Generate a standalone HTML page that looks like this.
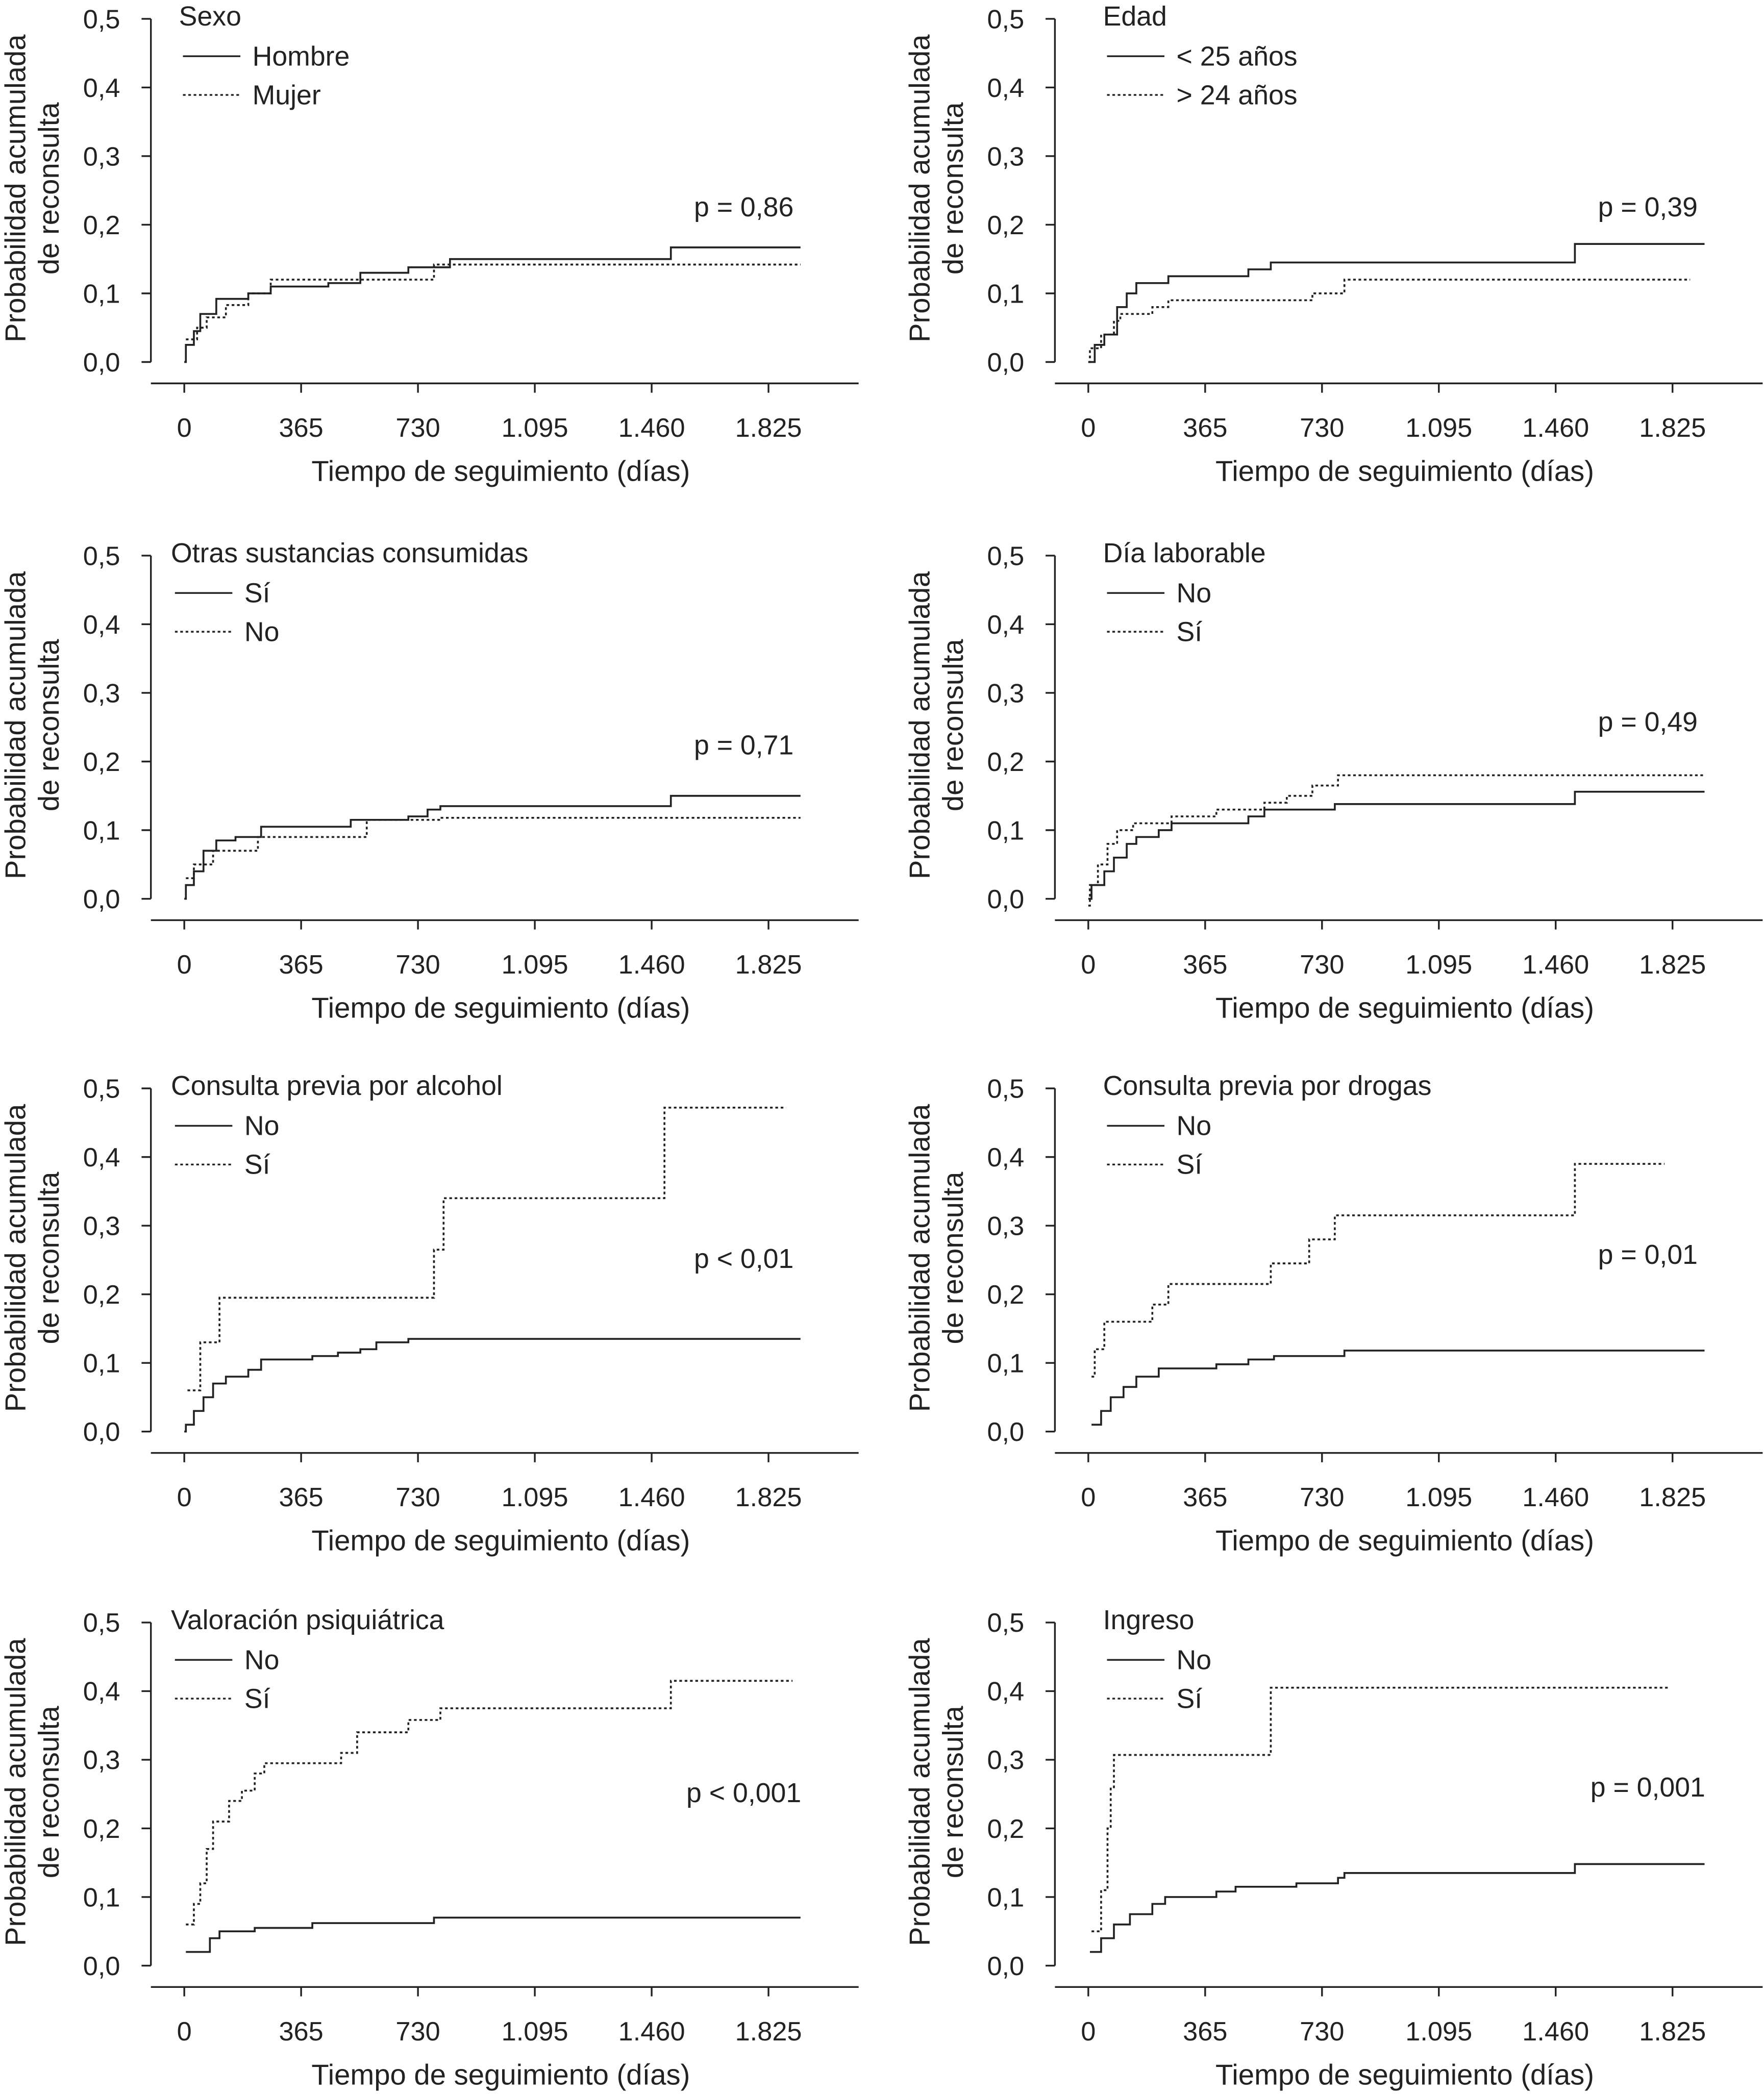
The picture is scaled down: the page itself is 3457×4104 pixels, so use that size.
<!DOCTYPE html>
<html><head><meta charset="utf-8"><style>
html,body{margin:0;padding:0;background:#fff;}
svg{display:block;}
text{font-family:"Liberation Sans",sans-serif;fill:#222;}
</style></head><body>
<svg id="fig" width="3457" height="4104" viewBox="0 0 1321 1568" xmlns="http://www.w3.org/2000/svg"></svg>
<script>
const xTicks = [0,365,730,1095,1460,1825];
const xTickLabels = ["0","365","730","1.095","1.460","1.825"];
const yTicks = [0,0.1,0.2,0.3,0.4,0.5];
const yTickLabels = ["0,0","0,1","0,2","0,3","0,4","0,5"];
const titles = ["Sexo","Edad","Otras sustancias consumidas","Día laborable","Consulta previa por alcohol","Consulta previa por drogas","Valoración psiquiátrica","Ingreso"];
const solidLabels = ["Hombre","< 25 años","Sí","No","No","No","No","No"];
const dotLabels = ["Mujer","> 24 años","No","Sí","Sí","Sí","Sí","Sí"];
const pValues = ["p = 0,86","p = 0,39","p = 0,71","p = 0,49","p < 0,01","p = 0,01","p < 0,001","p = 0,001"];
const pLevel = [0.226,0.226,0.224,0.258,0.252,0.258,0.252,0.26];
const s0T=[0,5,30,50,100,200,270,450,550,700,830,1520,1925], s0P=[0,0.025,0.045,0.07,0.092,0.1,0.11,0.115,0.13,0.138,0.15,0.167,0.167];
const d0T=[5,40,70,130,200,270,780,1925], d0P=[0.033,0.05,0.065,0.083,0.1,0.12,0.142,0.142];
const s1T=[0,20,50,90,120,150,250,500,570,1520,1925], s1P=[0,0.025,0.04,0.08,0.1,0.115,0.125,0.135,0.145,0.172,0.172];
const d1T=[0,5,40,80,100,200,250,700,800,1880], d1P=[0,0.02,0.04,0.06,0.07,0.08,0.09,0.1,0.12,0.12];
const s2T=[0,5,30,60,100,160,240,520,700,760,800,1520,1925], s2P=[0,0.02,0.04,0.07,0.085,0.09,0.105,0.115,0.12,0.13,0.135,0.15,0.15];
const d2T=[5,30,90,230,570,800,1925], d2P=[0.03,0.05,0.07,0.09,0.115,0.118,0.118];
const s3T=[0,10,50,80,120,150,220,260,500,550,770,1520,1925], s3P=[0,0.02,0.04,0.06,0.08,0.09,0.1,0.11,0.12,0.13,0.138,0.156,0.156];
const d3T=[0,5,30,60,90,140,260,400,550,620,700,780,1925], d3P=[-0.01,0.02,0.05,0.08,0.1,0.11,0.12,0.13,0.14,0.15,0.165,0.18,0.18];
const s4T=[0,5,30,60,90,130,200,240,400,480,550,600,700,1925], s4P=[0,0.01,0.03,0.05,0.07,0.08,0.09,0.105,0.11,0.115,0.12,0.13,0.135,0.135];
const d4T=[10,50,110,780,810,1500,1880], d4P=[0.06,0.13,0.195,0.265,0.34,0.472,0.472];
const s5T=[10,40,70,110,150,220,400,500,580,800,1925], s5P=[0.01,0.03,0.05,0.065,0.08,0.092,0.098,0.105,0.11,0.118,0.118];
const d5T=[10,20,50,200,250,570,690,770,1520,1800], d5P=[0.08,0.12,0.16,0.185,0.215,0.245,0.28,0.315,0.39,0.39];
const s6T=[5,80,110,220,400,780,1925], s6P=[0.02,0.04,0.05,0.055,0.062,0.07,0.07];
const d6T=[5,30,50,70,90,140,180,220,250,490,540,700,800,1520,1900], d6P=[0.06,0.09,0.12,0.17,0.21,0.24,0.255,0.28,0.295,0.31,0.34,0.358,0.375,0.415,0.415];
const s7T=[5,40,80,130,200,240,400,460,650,780,800,1520,1925], s7P=[0.02,0.04,0.06,0.075,0.09,0.1,0.108,0.115,0.12,0.128,0.135,0.148,0.148];
const d7T=[10,40,60,70,80,570,1810], d7P=[0.05,0.11,0.2,0.26,0.307,0.405,0.405];
const solidT=[s0T,s1T,s2T,s3T,s4T,s5T,s6T,s7T], solidP=[s0P,s1P,s2P,s3P,s4P,s5P,s6P,s7P];
const dotT=[d0T,d1T,d2T,d3T,d4T,d5T,d6T,d7T], dotP=[d0P,d1P,d2P,d3P,d4P,d5P,d6P,d7P];

const NS="http://www.w3.org/2000/svg";
const svg=document.getElementById('fig');
function mk(tag,attrs,parent,txt){const e=document.createElementNS(NS,tag);for(const k in attrs)e.setAttribute(k,attrs[k]);if(txt!==undefined)e.textContent=txt;parent.appendChild(e);return e;}
const rowTop=[14,416,815,1215];
for(let i=0;i<8;i++){
  const col=i%2,row=Math.floor(i/2);
  const ox=col*677, top=rowTop[row], zero=top+257;
  const xs=t=>ox+138+t*87.5/365;
  const ys=p=>zero-p*514;
  const g=mk('g',{},svg);
  
  
  const ya=mk('line',{x1:ox+113,y1:top,x2:ox+113,y2:zero,stroke:'#222','stroke-width':1.3},g);
  
  
  yTicks.forEach((v,k)=>{
    mk('line',{x1:ox+106,y1:ys(v),x2:ox+113,y2:ys(v),stroke:'#222','stroke-width':1.3},g);
    const t=mk('text',{x:ox+90,y:ys(v)+7,'text-anchor':'end','font-size':20},g,yTickLabels[k]);
    
    
  });
  const xa=mk('line',{x1:ox+113,y1:zero+16,x2:ox+643,y2:zero+16,stroke:'#222','stroke-width':1.3},g);
  
  
  xTicks.forEach((v,k)=>{
    mk('line',{x1:xs(v),y1:zero+16,x2:xs(v),y2:zero+23,stroke:'#222','stroke-width':1.3},g);
    const t=mk('text',{x:xs(v),y:zero+56,'text-anchor':'middle','font-size':20},g,xTickLabels[k]);
    
    
  });
  const xt=mk('text',{x:ox+375,y:zero+89,'text-anchor':'middle','font-size':21.5},g,'Tiempo de seguimiento (días)');
  
  
  const yt=mk('text',{transform:`translate(${ox+19},${top+127}) rotate(-90)`,'text-anchor':'middle','font-size':21.5},g,'Probabilidad acumulada');
  
  
  const yt2=mk('text',{transform:`translate(${ox+44},${top+127}) rotate(-90)`,'text-anchor':'middle','font-size':21.5},g,'de reconsulta');
  
  
  const lx=ox+(col===1?149:(i===0?134:128));
  const lt=mk('text',{x:lx,y:top+5,'font-size':20.5},g,titles[i]);
  
  
  mk('line',{x1:lx+3,y1:top+28,x2:lx+46,y2:top+28,stroke:'#222','stroke-width':1.3},g);
  const l1=mk('text',{x:lx+55,y:top+35,'font-size':20.5},g,solidLabels[i]);
  
  
  mk('line',{x1:lx+3,y1:top+57,x2:lx+46,y2:top+57,stroke:'#222','stroke-width':1.3,'stroke-dasharray':'2,2'},g);
  const l2=mk('text',{x:lx+55,y:top+64,'font-size':20.5},g,dotLabels[i]);
  
  
  const pv=mk('text',{x:ox+557,y:ys(pLevel[i])+7,'text-anchor':'middle','font-size':20.5},g,pValues[i]);
  
  
  function step(T,P){let d=`M${xs(T[0])},${ys(P[0])}`;for(let k=1;k<T.length;k++){d+=` H${xs(T[k])} V${ys(P[k])}`;}return d;}
  const sp=mk('path',{d:step(solidT[i],solidP[i]),fill:'none',stroke:'#222','stroke-width':1.4},g);
  
  
  const dp=mk('path',{d:step(dotT[i],dotP[i]),fill:'none',stroke:'#222','stroke-width':1.4,'stroke-dasharray':'2,2'},g);
  
  
}
</script>
</body></html>
